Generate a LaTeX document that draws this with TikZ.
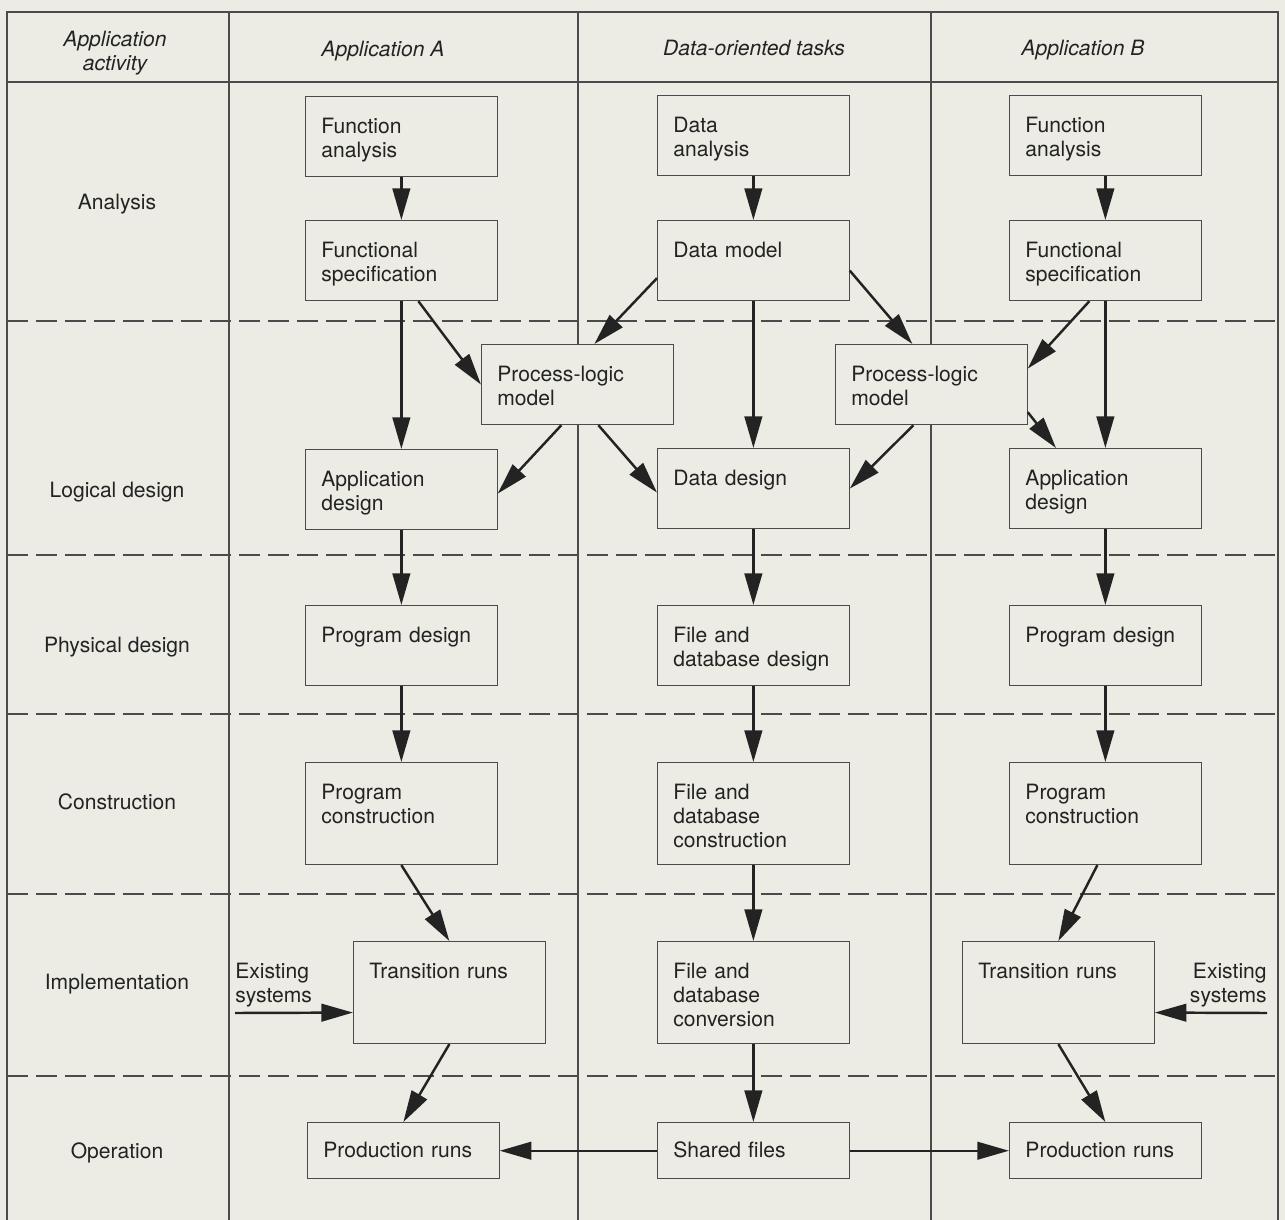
\documentclass[tikz,border=0pt]{standalone}
\usepackage{fontspec}
\setmainfont{TeX Gyre Heros}
\usetikzlibrary{arrows.meta,calc}
\definecolor{paper}{RGB}{236,236,229}
\definecolor{rule}{RGB}{75,75,75}
\definecolor{ink}{RGB}{35,35,35}
\tikzset{
  blk/.style={draw=rule, fill=paper, line width=0.7pt, anchor=north west,
    inner xsep=9pt, inner ysep=0pt, text width=91pt, align=left,
    text height=21pt, text depth=24.5pt, text=ink},
  tallblk/.style={blk, text depth=37pt},
  lowblk/.style={blk, text height=20pt, text depth=12pt},
  arr/.style={draw=ink, line width=1.4pt, -{Triangle[length=18pt,width=10pt]}},
  phase/.style={anchor=base, text=ink},
  colhead/.style={anchor=base, text=ink, font=\fontsize{12}{13.7}\selectfont\itshape},
}

\begin{document}
\begin{tikzpicture}[x=0.02cm, y=-0.02cm, font=\fontsize{12}{13.7}\selectfont]
\fill[paper] (0,0) rectangle (1285,1220);
\useasboundingbox (0,0) rectangle (1285,1220);

% table
\draw[rule, line width=0.6pt] (7,1220) -- (7,12) -- (1278,12) -- (1278,1220);
\draw[rule, line width=0.6pt] (7,82) -- (1278,82);
\foreach \x in {229,578,931}
  \draw[rule, line width=0.6pt] (\x,12) -- (\x,1220);
\foreach \y in {321,555,714,894,1076}
  \draw[rule, line width=0.6pt, dash pattern=on 12pt off 4.5pt] (7,\y) -- (1278,\y);

% headings
\node[colhead, anchor=center, align=center] (hact) at (115,53) {Application\\activity};
\node[colhead] (hA) at (383,57) {Application A};
\node[colhead] (hD) at (754,56) {Data-oriented tasks};
\node[colhead] (hB) at (1083,56) {Application B};
\foreach \y/\t in {209/Analysis, 497/Logical design, 652/Physical design,
    809/Construction, 989/Implementation, 1158/Operation}
  \node[phase] (ph\y) at (117,\y) {\t};

% application A
\node[blk] (faA) at (305,96) {Function\\analysis};
\node[blk] (fsA) at (305,220) {Functional\\specification};
\node[blk] (plmA) at (481,344) {Process-logic\\model};
\node[blk] (adA) at (305,449) {Application\\design};
\node[blk] (pdA) at (305,605) {Program design};
\node[tallblk] (pcA) at (305,762) {Program\\construction};
\node[tallblk] (trA) at (353,941) {Transition runs};
\node[lowblk] (prA) at (307,1122) {Production runs};
\node[anchor=north west, align=left, inner sep=0pt, text=ink] (exA) at (235,963) {Existing\\systems};
\coordinate (exAin) at (235,1013);

% data-oriented tasks
\node[blk] (da) at (657,95) {Data\\analysis};
\node[blk] (dm) at (657,220) {Data model};
\node[blk] (dd) at (657,448) {Data design};
\node[blk] (fdd) at (657,605) {File and\\database design};
\node[tallblk] (fdc) at (657,762) {File and\\database\\construction};
\node[tallblk] (fdv) at (657,941) {File and\\database\\conversion};
\node[lowblk] (sf) at (657,1122) {Shared files};

% application B
\node[blk] (faB) at (1009,95) {Function\\analysis};
\node[blk] (fsB) at (1009,220) {Functional\\specification};
\node[blk] (plmB) at (835,344) {Process-logic\\model};
\node[blk] (adB) at (1009,448) {Application\\design};
\node[blk] (pdB) at (1009,605) {Program design};
\node[tallblk] (pcB) at (1009,762) {Program\\construction};
\node[tallblk] (trB) at (962,941) {Transition runs};
\node[lowblk] (prB) at (1009,1122) {Production runs};
\node[anchor=north east, align=right, inner sep=0pt, text=ink] (exB) at (1267,963) {Existing\\systems};
\coordinate (exBin) at (1267,1013);

% flows
\foreach \a/\b in {faA/fsA, fsA/adA, adA/pdA, pdA/pcA, da/dm, dm/dd, dd/fdd,
    fdd/fdc, fdc/fdv, fdv/sf, faB/fsB, fsB/adB, adB/pdB, pdB/pcB}
  \draw[arr] (\a.south) -- (\b.north);
\draw[arr] ($(fsA.south)+(17,0)$) -- (plmA.west);
\draw[arr] ($(dm.south west)+(0,-23)$) -- ($(plmA.north)+(17,0)$);
\draw[arr] ($(plmA.south)+(-16,0)$) -- ($(adA.east)+(0,4)$);
\draw[arr] ($(plmA.south)+(21,0)$) -- ($(dd.west)+(0,4)$);
\draw[arr] ($(dm.east)+(0,10)$) -- ($(plmB.north)+(-19,0)$);
\draw[arr] ($(fsB.south)+(-16,0)$) -- ($(plmB.east)+(0,-16)$);
\draw[arr] ($(plmB.south)+(-18,0)$) -- (dd.east);
\draw[arr] ($(plmB.south east)+(0,-13)$) -- ($(adB.north west)+(47,0)$);
\draw[arr] (pcA.south) -- (trA.north);
\draw[arr] (trA.south) -- (prA.north);
\draw[arr] ($(pcB.south)+(-8,0)$) -- (trB.north);
\draw[arr] (trB.south) -- (prB.north);
\draw[arr] (sf.west) -- (prA.east);
\draw[arr] (sf.east) -- (prB.west);
\draw[arr] (exAin) -- ($(trA.west)+(0,20)$);
\draw[arr] (exBin) -- ($(trB.east)+(0,20)$);
\end{tikzpicture}
\end{document}
